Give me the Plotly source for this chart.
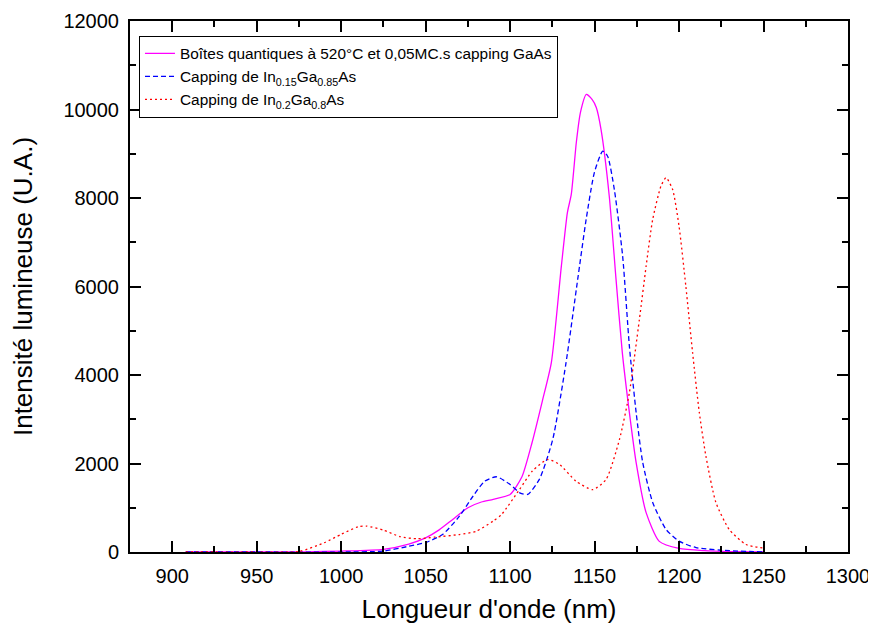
import plotly.graph_objects as go

# Magenta: Boîtes quantiques à 520°C
x_gaas = [908, 950, 980, 1000, 1025, 1040, 1050, 1058, 1066, 1075, 1083, 1090, 1100, 1107, 1113,
          1119, 1124.4, 1130.3, 1133.9, 1136.2, 1139.2, 1141.6, 1145.1, 1148.5, 1151, 1153.8,
          1158.7, 1162.7, 1166.4, 1170.6, 1174.6, 1180.5, 1188.3, 1200, 1215, 1230, 1250]
y_gaas = [0, 0, 5, 20, 60, 180, 320, 500, 735, 1000, 1130, 1190, 1300, 1700, 2475,
          3400, 4280, 6450, 7670, 8080, 9260, 9930, 10340, 10230, 10045, 9550,
          8035, 6160, 4510, 3150, 2020, 890, 240, 80, 30, 10, 0]

# Blue: capping In0.15Ga0.85As
x_in15 = [908, 950, 1000, 1025, 1040, 1050, 1060, 1070, 1078, 1085, 1092, 1100, 1106, 1110.4,
          1117.3, 1125.2, 1133.1, 1140, 1145, 1149.9, 1154.8, 1157.7, 1161.7, 1166.6, 1170.6,
          1174.6, 1178.5, 1184.4, 1192.3, 1200, 1210, 1225, 1250]
y_in15 = [0, 0, 0, 20, 130, 215, 395, 810, 1260, 1600, 1700, 1525, 1330, 1300,
          1640, 2540, 4280, 6160, 7515, 8580, 9060, 8945, 8190, 6690, 4650,
          3150, 2020, 1120, 510, 245, 100, 40, 0]

# Red: capping In0.2Ga0.8As
x_in20 = [908, 950, 975, 990, 1000, 1010, 1015, 1025, 1035, 1045, 1055, 1070, 1080, 1090, 1095,
          1105.5, 1113.2, 1122.2, 1129.2, 1139, 1148.9, 1156.8, 1164.7, 1170.6, 1176.5, 1180.5,
          1184.4, 1189.3, 1192.3, 1196.2, 1200, 1204, 1208, 1212, 1215.9, 1221.8, 1229.7,
          1239.6, 1250]
y_in20 = [0, 0, 10, 210, 400, 570, 585, 495, 345, 300, 335, 395, 470, 700, 850,
          1410, 1830, 2090, 1980, 1600, 1410, 1640, 2540, 3600, 5250, 6460,
          7515, 8270, 8460, 8190, 7360, 6010, 4510, 3150, 2165, 1120, 510,
          170, 90]

names = ["Boîtes quantiques à 520°C et 0,05MC.s capping GaAs",
         "Capping de In<sub>0.15</sub>Ga<sub>0.85</sub>As",
         "Capping de In<sub>0.2</sub>Ga<sub>0.8</sub>As"]

x_ticks = [900, 950, 1000, 1050, 1100, 1150, 1200, 1250, 1300]
y_ticks = [0, 2000, 4000, 6000, 8000, 10000, 12000]

fig = go.Figure()
fig.add_trace(go.Scatter(x=x_gaas, y=y_gaas, mode="lines", name=names[0],
                         line=dict(color="#FF00FF", width=1.3, shape="spline", smoothing=0.6)))
fig.add_trace(go.Scatter(x=x_in15, y=y_in15, mode="lines", name=names[1],
                         line=dict(color="#0000FF", width=1.3, dash="5px,3px",
                                   shape="spline", smoothing=0.6)))
fig.add_trace(go.Scatter(x=x_in20, y=y_in20, mode="lines", name=names[2],
                         line=dict(color="#FF0000", width=1.3, dash="2px,3px",
                                   shape="spline", smoothing=0.6)))

font_family = "Liberation Sans, Arial, sans-serif"
axis_common = dict(showgrid=False, zeroline=False, showline=True, linecolor="black",
                   linewidth=2, mirror="ticks", ticks="inside", ticklen=11,
                   tickwidth=2, tickcolor="black", ticklabelstandoff=5, automargin=False,
                   tickfont=dict(family=font_family, size=20, color="black"))

# page body has an 8px margin: figure is placed at (8, 8)
fig.update_layout(
    width=868, height=620,
    margin=dict(l=122, r=28, t=13, b=76),
    paper_bgcolor="white", plot_bgcolor="white",
    font=dict(family=font_family, color="black"),
    xaxis=dict(range=[875, 1300], tickvals=x_ticks, ticktext=[str(v) for v in x_ticks],
               title=dict(text="Longueur d'onde (nm)", font=dict(size=26), standoff=14),
               minor=dict(ticks="inside", ticklen=6, tickwidth=2, tickcolor="black", dtick=25, tick0=0),
               **axis_common),
    yaxis=dict(range=[0, 12000], tickvals=y_ticks, ticktext=[str(v) for v in y_ticks],
               title=dict(text="Intensité lumineuse (U.A.)", font=dict(size=26), standoff=25),
               minor=dict(ticks="inside", ticklen=6, tickwidth=2, tickcolor="black", dtick=1000, tick0=0),
               **axis_common),
    legend=dict(x=0.0125, y=0.972, xanchor="left", yanchor="top",
                bordercolor="black", borderwidth=1, bgcolor="white",
                font=dict(family=font_family, size=15.4, color="black"),
                tracegroupgap=2),
    showlegend=True,
)

fig.write_html("out.html")
